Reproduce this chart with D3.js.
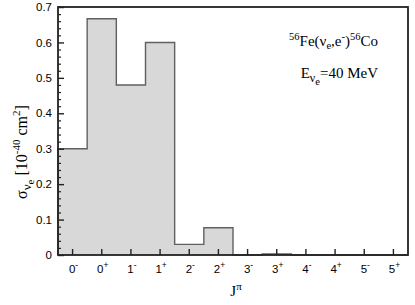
<!DOCTYPE html>
<html><head><meta charset="utf-8">
<script src="https://cdn.jsdelivr.net/npm/d3@7/dist/d3.min.js"></script>
<style>body{margin:0;background:#fff}svg{display:block}</style>
</head><body>
<svg id="c" width="415" height="305"></svg>
<script>
const spins = ["0","0","1","1","2","2","3","3","4","4","5","5"];
const parities = ["-","+","-","+","-","+","-","+","-","+","-","+"];
const values = [0.30, 0.667, 0.48, 0.60, 0.03, 0.077, 0, 0.003, 0, 0, 0, 0];
const yTicks = [0, 0.1, 0.2, 0.3, 0.4, 0.5, 0.6, 0.7];

const svg = d3.select("#c");
const L = 58, R = 408, T = 7, B = 255;
const cats = spins.map((s, i) => s + parities[i]);
const x = d3.scaleBand().domain(cats).range([L, R]).padding(0);
const y = d3.scaleLinear().domain([0, 0.7]).range([B, T]);
const bw = x.bandwidth();

const pts = [[x(cats[0]), y(0)]];
cats.forEach((c, i) => { pts.push([x(c), y(values[i])]); pts.push([x(c) + bw, y(values[i])]); });
pts.push([x(cats[cats.length - 1]) + bw, y(0)]);
const line = d3.line();
svg.append("path").attr("d", line(pts) + "Z").attr("fill", "#d8d8d8").attr("stroke", "none");
svg.append("path").attr("d", line(pts)).attr("fill", "none").attr("stroke", "#606060").attr("stroke-width", 1.4);

const minor = d3.range(0, 0.7001, 0.02).filter(v => Math.abs(v * 10 - Math.round(v * 10)) > 1e-6);
svg.append("g").attr("transform", `translate(${L},0)`)
  .call(d3.axisLeft(y).tickValues(minor).tickSize(-3).tickFormat(""))
  .call(g => g.select(".domain").remove())
  .call(g => g.selectAll("line").attr("stroke", "#222").attr("stroke-width", 1.2));
const ya = svg.append("g").attr("transform", `translate(${L},0)`)
  .call(d3.axisLeft(y).tickValues(yTicks).tickSize(-6).tickPadding(6).tickFormat(d => d === 0 ? "0" : d3.format(".1f")(d)));
ya.select(".domain").remove();
ya.selectAll("line").attr("stroke", "#222").attr("stroke-width", 1.4);
ya.selectAll("text").attr("font-family", "Liberation Sans, Arial, sans-serif").attr("font-size", 11.5).attr("fill", "#000");

const xa = svg.append("g").attr("transform", `translate(0,${B})`)
  .call(d3.axisBottom(x).tickSize(-6).tickFormat(""));
xa.select(".domain").remove();
xa.selectAll("line").attr("stroke", "#222").attr("stroke-width", 1.4);
xa.selectAll(".tick").each(function (d, i) {
  const t = d3.select(this).append("text").attr("y", 18).attr("x", 1)
    .attr("text-anchor", "middle").attr("font-family", "Liberation Sans, Arial, sans-serif")
    .attr("font-size", 11.5).attr("fill", "#000");
  t.append("tspan").text(spins[i]);
  t.append("tspan").attr("dy", -5).attr("font-size", 8.5).text(parities[i] === "-" ? "-" : "+");
});

svg.append("rect").attr("x", L).attr("y", T).attr("width", R - L).attr("height", B - T)
  .attr("fill", "none").attr("stroke", "#222").attr("stroke-width", 1.8);

const serif = "Liberation Serif, Times New Roman, serif";
const xl = svg.append("text").attr("x", 236).attr("y", 296).attr("text-anchor", "middle")
  .attr("font-family", serif).attr("font-size", 15);
xl.append("tspan").text("J");
xl.append("tspan").attr("dy", -6).attr("font-size", 11).text("π");

const yl = svg.append("text").attr("transform", "translate(27,152) rotate(-90)")
  .attr("text-anchor", "middle").attr("font-family", serif).attr("font-size", 16);
yl.append("tspan").text("σ");
yl.append("tspan").attr("dy", 4).attr("font-size", 13).text("ν");
yl.append("tspan").attr("dy", 3).attr("font-size", 11).text("e");
yl.append("tspan").attr("dy", -7).text(" [10");
yl.append("tspan").attr("dy", -7).attr("font-size", 11).text("-40");
yl.append("tspan").attr("dy", 7).text(" cm");
yl.append("tspan").attr("dy", -7).attr("font-size", 11).text("2");
yl.append("tspan").attr("dy", 7).text("]");

const a1 = svg.append("text").attr("x", 378).attr("y", 46).attr("text-anchor", "end")
  .attr("font-family", serif).attr("font-size", 15);
a1.append("tspan").attr("dy", -6).attr("font-size", 10.5).text("56");
a1.append("tspan").attr("dy", 6).text("Fe(ν");
a1.append("tspan").attr("dy", 3).attr("font-size", 10.5).text("e");
a1.append("tspan").attr("dy", -3).text(",e");
a1.append("tspan").attr("dy", -6).attr("font-size", 10.5).text("-");
a1.append("tspan").attr("dy", 6).text(")");
a1.append("tspan").attr("dy", -6).attr("font-size", 10.5).text("56");
a1.append("tspan").attr("dy", 6).text("Co");

const a2 = svg.append("text").attr("x", 378).attr("y", 78).attr("text-anchor", "end")
  .attr("font-family", serif).attr("font-size", 15);
a2.append("tspan").text("E");
a2.append("tspan").attr("dy", 4).attr("font-size", 12).text("ν");
a2.append("tspan").attr("dy", 3).attr("font-size", 10.5).text("e");
a2.append("tspan").attr("dy", -7).text("=40 MeV");
</script>
</body></html>
